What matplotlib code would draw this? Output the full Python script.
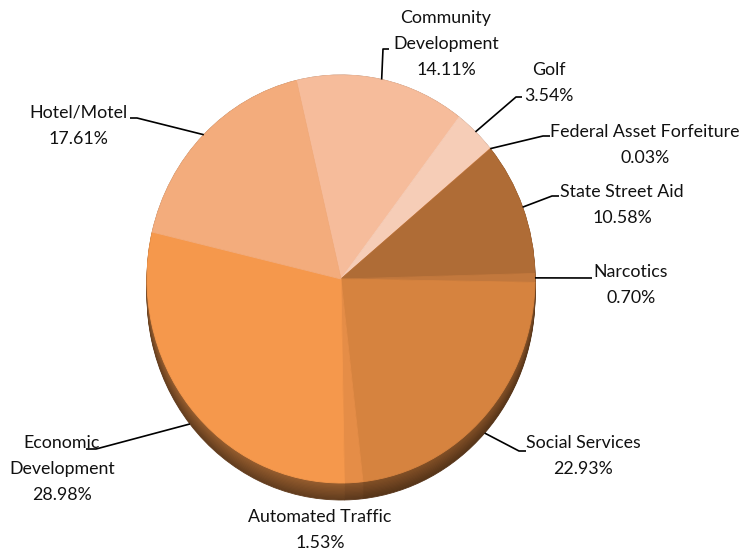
import numpy as np
import matplotlib.pyplot as plt
from matplotlib.colors import to_rgb

plt.rcParams['font.family'] = ['Lato', 'DejaVu Sans']

# fund shares, clockwise from the top
funds = ['Community\nDevelopment', 'Golf', 'Federal Asset Forfeiture',
         'State Street Aid', 'Narcotics', 'Social Services',
         'Automated Traffic', 'Economic\nDevelopment', 'Hotel/Motel']
shares = [14.11, 3.54, 0.03, 10.58, 0.70, 22.93, 1.53, 28.98, 17.61]
colors = ['#F6BC9B', '#F6CDB7', '#EBA477', '#AF6C36', '#C2783D',
          '#D6833F', '#E58D47', '#F5984C', '#F3AC7C']

W, H = 751, 554
cx, cy = 341, 279        # pie centre in pixels
rx, ry = 194, 204        # ellipse radii
depth = 17               # thickness of the side
start = 103.3

fig = plt.figure(figsize=(W / 100, H / 100), dpi=100)

# pie axes: one data unit = rx px across, ry px down
pax = fig.add_axes([(cx - rx) / W, 1 - (cy + ry + depth) / H,
                    2 * rx / W, (2 * ry + depth) / H])

# side of the disc, stacked from the bottom up, lighter towards the top
n_layers = 14
for k in range(n_layers):
    off = depth * (1 - k / (n_layers - 1)) / ry
    f = 0.40 + 0.22 * k / (n_layers - 1)
    side = [tuple(c * f for c in to_rgb(col)) for col in colors]
    ws, _ = pax.pie(shares, colors=side, startangle=start, counterclock=False,
                    center=(0, -off), radius=1, normalize=True)
    for w in ws:
        w.set_edgecolor(w.get_facecolor())
        w.set_linewidth(0.6)

wedges, _ = pax.pie(shares, colors=colors, startangle=start,
                    counterclock=False, radius=1, normalize=True)
for w in wedges:
    w.set_edgecolor(w.get_facecolor())
    w.set_linewidth(0.6)

pax.set_aspect('auto')
pax.set_xlim(-1, 1)
pax.set_ylim(-1 - depth / ry, 1)
pax.axis('off')

# overlay in pixel coordinates for labels and leader lines
ax = fig.add_axes([0, 0, 1, 1])
ax.set_xlim(0, W)
ax.set_ylim(H, 0)
ax.axis('off')

# label block centres
label_pos = [(446, 44), (549, 83), (645, 145), (622, 205), (631, 285),
             (583, 456), (320, 530), (62, 469), (78, 126)]
# leader elbow and end near each label (None = no leader)
leaders = [((383, 49), (389, 49)), ((516, 97), (522, 97)),
           ((543, 136), (550, 136)), ((552, 196), (559, 196)),
           ((592, 278), (592, 278)), ((519, 451), (526, 451)),
           None, ((96, 449), (86, 449)), ((137, 118), (130, 118))]

total = sum(shares)
acc = 0
for name, val, (tx, ty), ld in zip(funds, shares, label_pos, leaders):
    mid = np.radians(start - 360 * (acc + val / 2) / total)
    acc += val
    ax.text(tx, ty, f'{name}\n{val:.2f}%', ha='center', va='center',
            fontsize=12.8, linespacing=1.8, color='#111111')
    if ld is None:
        continue
    px = cx + rx * np.cos(mid)
    py = cy - ry * np.sin(mid)
    if np.sin(mid) < -0.2:
        py += depth
    (ex, ey), (fx, fy) = ld
    ax.plot([px, ex, fx], [py, ey, fy], color='black', lw=1.2,
            solid_capstyle='butt')

fig.savefig('out.png', dpi=100, facecolor='white')
